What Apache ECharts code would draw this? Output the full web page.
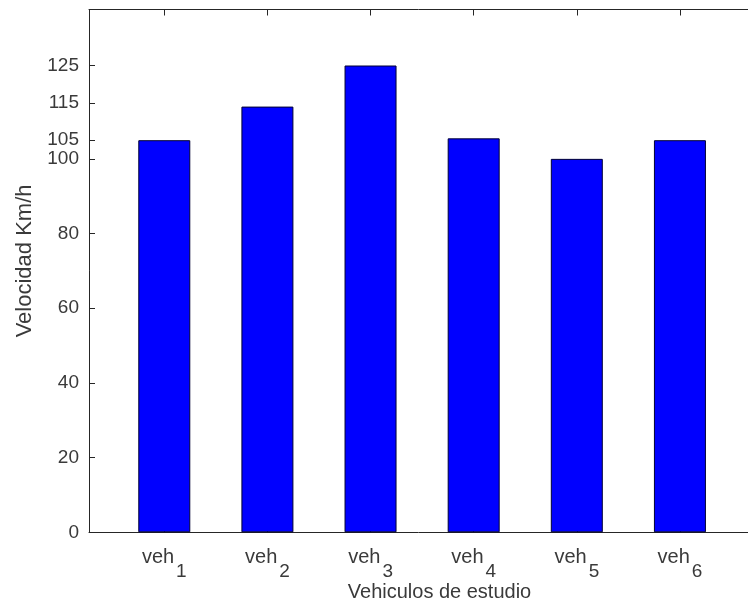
<!DOCTYPE html>
<html>
<head>
<meta charset="utf-8">
<script src="https://cdn.jsdelivr.net/npm/echarts@6/dist/echarts.min.js"></script>
<style>
  html, body { margin: 0; padding: 0; background: #ffffff; }
  #chart { width: 748px; height: 610px; }
</style>
</head>
<body>
<div id="chart"></div>
<script>
// Vehicles under study and their speed (km/h)
const vehicleBase = ['veh', 'veh', 'veh', 'veh', 'veh', 'veh'];
const vehicleIndex = ['1', '2', '3', '4', '5', '6'];
const speeds = [105, 114, 125, 105.5, 100, 105];
const yTicks = [0, 20, 40, 60, 80, 100, 105, 115, 125];
const xPositions = [1, 2, 3, 4, 5, 6];

const axisColor = '#262626';
const textColor = '#3a3a3a';
const font = 'Liberation Sans, Arial, Helvetica, sans-serif';

const chart = echarts.init(document.getElementById('chart'), null, { renderer: 'canvas' });

const barData = xPositions.map((x, i) => [x, speeds[i]]);

// x range: the plot box continues past the right edge of the page
const xMin = 0.27;
const xMax = 6.66;

chart.setOption({
  animation: false,
  backgroundColor: '#ffffff',
  grid: { left: 89, top: 9.5, bottom: 77.7, right: 0, containLabel: false },
  xAxis: [
    {
      type: 'value',
      min: xMin,
      max: xMax,
      position: 'bottom',
      name: 'Vehiculos de estudio',
      nameLocation: 'middle',
      nameGap: 50,
      nameMoveOverlap: false,
      nameTextStyle: { color: textColor, fontSize: 20, fontFamily: font, padding: [0, 0, 0, 42] },
      axisLine: { show: true, onZero: false, lineStyle: { color: axisColor, width: 1 } },
      axisTick: { show: true, inside: true, length: 6, customValues: xPositions, lineStyle: { color: axisColor } },
      axisLabel: {
        show: true,
        margin: 15,
        customValues: xPositions,
        color: textColor,
        fontFamily: font,
        formatter: function (v) {
          const i = Math.round(v) - 1;
          return '{b|' + vehicleBase[i] + '}{s|' + vehicleIndex[i] + '}';
        },
        rich: {
          b: { fontSize: 20, fontFamily: font, color: textColor, lineHeight: 20, verticalAlign: 'top' },
          s: { fontSize: 19, fontFamily: font, color: textColor, lineHeight: 19, verticalAlign: 'top', padding: [15, 0, 0, 2] }
        }
      },
      splitLine: { show: false }
    },
    {
      type: 'value',
      min: xMin,
      max: xMax,
      position: 'top',
      axisLine: { show: true, onZero: false, lineStyle: { color: axisColor, width: 1 } },
      axisTick: { show: true, inside: true, length: 6, customValues: xPositions, lineStyle: { color: axisColor } },
      axisLabel: { show: false },
      splitLine: { show: false }
    }
  ],
  yAxis: {
    type: 'value',
    min: 0,
    max: 140,
    name: 'Velocidad Km/h',
    nameLocation: 'middle',
    nameGap: 53,
    nameRotate: 90,
    nameMoveOverlap: false,
    nameTextStyle: { color: textColor, fontSize: 22, fontFamily: font, padding: [0, 0, 0, 20] },
    axisLine: { show: true, onZero: false, lineStyle: { color: axisColor, width: 1 } },
    axisTick: { show: true, inside: true, length: 6, customValues: yTicks, lineStyle: { color: axisColor } },
    axisLabel: { show: true, margin: 10, customValues: yTicks, color: textColor, fontSize: 19, fontFamily: font },
    splitLine: { show: false }
  },
  series: [
    {
      type: 'bar',
      xAxisIndex: 0,
      data: barData,
      barWidth: 52,
      itemStyle: { color: '#0000ff', borderColor: '#000033', borderWidth: 1 }
    }
  ]
});
</script>
</body>
</html>
